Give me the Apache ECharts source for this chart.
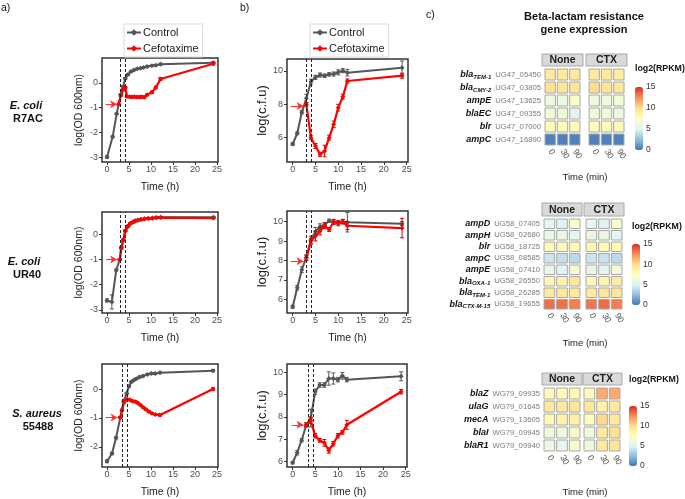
<!DOCTYPE html>
<html><head><meta charset="utf-8">
<script src="https://cdn.jsdelivr.net/npm/echarts@6/dist/echarts.min.js"></script>
<style>html,body{margin:0;padding:0;background:#fff}#c{width:685px;height:499px}</style>
</head><body><div id="c"></div><script>
// ---------------- DATA ----------------
const TIME_TICKS = [0, 5, 10, 15, 20, 25];
const OD_TICKS = [-3, -2, -1, 0];
const CFU_TICKS_TOP = [6, 8, 10];
const CFU_TICKS = [6, 7, 8, 9, 10];
const SERIES_NAMES = ['Control', 'Cefotaxime'];

// E. coli R7AC, OD
const R7AC_OD_ctrl_t = [0, 1.28, 2.19, 3.1, 3.63, 4.15, 4.76, 5.44, 6.12, 6.87, 7.63, 8.3, 9.14, 10.2, 11.1, 12.16, 24.17];
const R7AC_OD_ctrl_v = [-3.0, -2.18, -1.25, -0.5, -0.16, 0.18, 0.34, 0.46, 0.52, 0.57, 0.6, 0.63, 0.67, 0.7, 0.72, 0.76, 0.82];
const R7AC_OD_ctrl_e = [0.05, 0.04, 0.03, 0.04, 0.05, 0.04, 0.04, 0.03, 0.03, 0.03, 0.03, 0.03, 0.03, 0.03, 0.03, 0.04, 0.04];
const R7AC_OD_ctx_t = [2.64, 3.17, 3.63, 4.15, 4.53, 5.14, 5.66, 6.19, 6.8, 7.4, 7.93, 8.46, 9.14, 10.2, 11.1, 12.16, 24.17];
const R7AC_OD_ctx_v = [-0.86, -0.48, -0.27, -0.18, -0.55, -0.56, -0.57, -0.56, -0.57, -0.57, -0.56, -0.58, -0.48, -0.38, -0.18, 0.16, 0.78];
const R7AC_OD_ctx_e = [0.04, 0.05, 0.05, 0.04, 0.04, 0.04, 0.04, 0.04, 0.04, 0.04, 0.04, 0.04, 0.04, 0.05, 0.05, 0.06, 0.05];
// E. coli R7AC, cfu
const R7AC_CFU_ctrl_t = [0, 1, 2, 3, 4, 5, 6, 7, 8, 9, 10, 11, 12, 24];
const R7AC_CFU_ctrl_v = [5.62, 6.26, 7.52, 8.36, 9.36, 9.62, 9.76, 9.72, 9.8, 9.82, 9.92, 10.02, 9.9, 10.2];
const R7AC_CFU_ctrl_e = [0.08, 0.08, 0.1, 0.25, 0.15, 0.12, 0.12, 0.1, 0.1, 0.12, 0.15, 0.12, 0.2, 0.4];
const R7AC_CFU_ctx_t = [3, 4, 5, 6, 7, 8, 9, 10, 11, 12, 24];
const R7AC_CFU_ctx_v = [8.0, 6.0, 5.5, 5.0, 5.2, 6.0, 6.8, 7.8, 8.46, 9.4, 9.72];
const R7AC_CFU_ctx_e = [0.1, 0.12, 0.15, 0.12, 0.35, 0.15, 0.2, 0.2, 0.15, 0.12, 0.15];
// E. coli UR40, OD
const UR40_OD_ctrl_t = [0, 1.1, 2.1, 2.9, 3.25, 3.7, 4.15, 4.8, 5.3, 5.9, 6.4, 7, 7.7, 8.5, 9.4, 10.3, 11.2, 12.2, 24.2];
const UR40_OD_ctrl_v = [-2.62, -2.68, -1.42, -1.0, -0.53, -0.22, 0.14, 0.33, 0.43, 0.48, 0.53, 0.56, 0.59, 0.61, 0.63, 0.64, 0.66, 0.67, 0.67];
const UR40_OD_ctrl_e = [0.06, 0.28, 0.04, 0.03, 0.04, 0.04, 0.03, 0.03, 0.03, 0.03, 0.03, 0.03, 0.03, 0.03, 0.03, 0.03, 0.03, 0.03, 0.03];
const UR40_OD_ctx_t = [2.9, 3.25, 3.7, 4.15, 4.8, 5.3, 5.9, 6.4, 7, 7.7, 8.5, 9.4, 10.3, 11.2, 12.2, 24.2];
const UR40_OD_ctx_v = [-1.0, -0.55, -0.24, 0.13, 0.32, 0.42, 0.47, 0.52, 0.55, 0.58, 0.6, 0.62, 0.63, 0.65, 0.66, 0.64];
const UR40_OD_ctx_e = [0.03, 0.04, 0.04, 0.03, 0.03, 0.03, 0.03, 0.03, 0.03, 0.03, 0.03, 0.03, 0.03, 0.03, 0.03, 0.03];
// E. coli UR40, cfu
const UR40_CFU_ctrl_t = [0, 1, 2, 3, 4, 5, 6, 7, 8, 9, 10, 11, 12, 24];
const UR40_CFU_ctrl_v = [5.62, 6.6, 7.53, 8.17, 9.06, 9.5, 9.74, 9.83, 10.05, 9.97, 9.97, 10.0, 9.97, 9.9];
const UR40_CFU_ctrl_e = [0.08, 0.12, 0.15, 0.15, 0.2, 0.2, 0.15, 0.12, 0.08, 0.12, 0.1, 0.1, 0.5, 0.1];
const UR40_CFU_ctx_t = [3, 4, 5, 6, 7, 8, 9, 10, 11, 12, 24];
const UR40_CFU_ctx_v = [8.13, 9.0, 9.26, 9.52, 9.79, 9.6, 10.0, 9.91, 10.0, 9.79, 9.67];
const UR40_CFU_ctx_e = [0.12, 0.15, 0.25, 0.2, 0.15, 0.1, 0.12, 0.12, 0.12, 0.2, 0.5];
// S. aureus 55488, OD
const SA_OD_ctrl_t = [0, 1.14, 2.05, 3.03, 3.79, 4.47, 5.0, 5.53, 6.06, 6.67, 7.42, 8.18, 9.17, 10.08, 10.98, 12.05, 24.1];
const SA_OD_ctrl_v = [-2.5, -2.23, -1.69, -0.98, -0.42, -0.15, 0.1, 0.25, 0.31, 0.36, 0.42, 0.45, 0.51, 0.54, 0.54, 0.57, 0.64];
const SA_OD_ctrl_e = [0.05, 0.04, 0.04, 0.03, 0.04, 0.04, 0.03, 0.03, 0.03, 0.03, 0.03, 0.03, 0.03, 0.03, 0.03, 0.03, 0.04];
const SA_OD_ctx_t = [3.03, 3.4, 3.9, 4.6, 5.3, 5.9, 6.5, 7.0, 7.6, 8.2, 8.8, 9.5, 10.2, 11.0, 12.05, 24.1];
const SA_OD_ctx_v = [-0.98, -0.73, -0.45, -0.35, -0.38, -0.42, -0.44, -0.48, -0.55, -0.63, -0.7, -0.78, -0.84, -0.88, -0.9, 0.0];
const SA_OD_ctx_e = [0.03, 0.04, 0.04, 0.03, 0.03, 0.03, 0.03, 0.03, 0.03, 0.03, 0.03, 0.03, 0.03, 0.03, 0.04, 0.05];
// S. aureus 55488, cfu
const SA_CFU_ctrl_t = [0, 1, 2, 3, 4, 5, 6, 7, 8, 9, 10, 11, 12, 24];
const SA_CFU_ctrl_v = [5.95, 6.4, 6.96, 7.64, 7.95, 9.13, 9.43, 9.43, 9.72, 9.72, 9.67, 9.84, 9.67, 9.82];
const SA_CFU_ctrl_e = [0.05, 0.1, 0.08, 0.1, 0.4, 0.12, 0.1, 0.1, 0.3, 0.25, 0.1, 0.15, 0.1, 0.2];
const SA_CFU_ctx_t = [3, 4, 5, 6, 7, 8, 9, 10, 11, 12, 24];
const SA_CFU_ctx_v = [7.65, 7.85, 7.16, 6.95, 6.84, 6.5, 6.8, 7.16, 7.31, 7.65, 9.13];
const SA_CFU_ctx_e = [0.08, 0.15, 0.1, 0.08, 0.15, 0.12, 0.1, 0.1, 0.08, 0.2, 0.1];

// antibiotic addition windows (dashed lines) and arrow (y, x-from, x-to)
const R7AC_OD_dash = [3.0, 4.2], R7AC_CFU_dash = [3, 4];
const UR40_OD_dash = [3.0, 4.15], UR40_CFU_dash = [3, 4];
const SA_OD_dash = [3.5, 4.6], SA_CFU_dash = [3.5, 4.6];
const R7AC_OD_arrow = [-0.86, -0.3, 2.3], R7AC_CFU_arrow = [7.9, -0.4, 2.4];
const UR40_OD_arrow = [-1.0, -0.2, 2.3], UR40_CFU_arrow = [7.97, -0.4, 2.4];
const SA_OD_arrow = [-0.98, -0.3, 2.4], SA_CFU_arrow = [7.65, -0.2, 2.4];

// heatmaps
const TIME_MIN = ['0', '30', '90'];
const CB_TICKS = [0, 5, 10, 15];
const H1_genes = ['bla_TEM-1', 'bla_CMY-2', 'ampE', 'blaEC', 'blr', 'ampC'];
const H1_loci = ['UG47_05450', 'UG47_03805', 'UG47_13625', 'UG47_09355', 'UG47_07000', 'UG47_16890'];
const H1_none = [[9.2, 9.2, 9.2], [9.8, 9.5, 9.4], [6.2, 6.2, 7.2], [6.5, 6.4, 5.4], [7.8, 7.8, 7.9], [0.4, 0.4, 0.4]];
const H1_ctx = [[9.2, 9.2, 9.0], [10.1, 9.7, 9.4], [6.1, 6.2, 6.7], [6.4, 6.3, 6.0], [7.8, 7.8, 7.9], [0.4, 0.4, 0.4]];
const H2_genes = ['ampD', 'ampH', 'blr', 'ampC', 'ampE', 'bla_OXA-1', 'bla_TEM-1', 'bla_CTX-M-15'];
const H2_loci = ['UG58_07405', 'UG58_02680', 'UG58_18725', 'UG58_08585', 'UG58_07410', 'UG58_26550', 'UG58_26285', 'UG58_19655'];
const H2_none = [[5.6, 5.0, 7.0], [5.8, 5.9, 5.6], [8.0, 8.0, 8.0], [4.3, 4.0, 3.8], [5.8, 5.2, 6.6], [8.2, 8.6, 9.4], [9.2, 9.3, 9.3], [13.3, 13.3, 12.9]];
const H2_ctx = [[5.6, 5.1, 7.0], [5.9, 5.9, 5.2], [8.3, 8.0, 8.0], [4.3, 4.2, 3.8], [5.8, 5.5, 6.5], [8.0, 8.4, 9.0], [9.1, 9.4, 9.4], [13.1, 13.4, 12.9]];
const H3_genes = ['blaZ', 'ulaG', 'mecA', 'blaI', 'blaR1'];
const H3_loci = ['WG79_09935', 'WG79_01645', 'WG79_13605', 'WG79_09945', 'WG79_09940'];
const H3_none = [[8.0, 8.0, 8.1], [9.3, 9.3, 9.5], [8.1, 8.6, 8.6], [6.2, 6.2, 6.9], [6.0, 5.5, 6.7]];
const H3_ctx = [[7.9, 11.6, 11.6], [9.4, 8.6, 9.2], [7.6, 10.2, 9.3], [6.2, 9.3, 9.8], [6.1, 9.3, 9.5]];
const PALETTE = ['#4575b4', '#91bfdb', '#e0f3f8', '#ffffbf', '#fee090', '#fc8d59', '#d73027'];

// ---------------- BUILD ----------------
const FONT = "'Liberation Sans', Arial, sans-serif";
const CTRL_COL = '#555555', CTX_COL = '#ff0000';
const grids = [], xAxes = [], yAxes = [], series = [], visualMaps = [], graphics = [];
const zip = (t, v, e) => t.map((x, i) => e ? [x, v[i], e[i]] : [x, v[i]]);

function errSeries(gi, data, color) {
  return {
    type: 'custom', xAxisIndex: gi, yAxisIndex: gi, data: data, z: 3, silent: true,
    renderItem: function (params, api) {
      const x = api.value(0), y = api.value(1), e = api.value(2);
      const a = api.coord([x, y + e]), b = api.coord([x, y - e]);
      const c = 2, st = { stroke: color, lineWidth: 1 };
      return { type: 'group', children: [
        { type: 'line', shape: { x1: a[0], y1: a[1], x2: b[0], y2: b[1] }, style: st },
        { type: 'line', shape: { x1: a[0] - c, y1: a[1], x2: a[0] + c, y2: a[1] }, style: st },
        { type: 'line', shape: { x1: b[0] - c, y1: b[1], x2: b[0] + c, y2: b[1] }, style: st }
      ] };
    }
  };
}

function addLinePanel(p) {
  const gi = grids.length;
  grids.push({ left: p.box[0], top: p.box[1], width: p.box[2], height: p.box[3], show: true,
    borderColor: '#333', borderWidth: 1.5, backgroundColor: 'transparent' });
  xAxes.push({ gridIndex: gi, type: 'value', min: p.xr[0], max: p.xr[1],
    axisLine: { show: false, onZero: false }, splitLine: { show: false },
    axisTick: { show: true, length: 3, customValues: TIME_TICKS, lineStyle: { color: '#333' } },
    axisLabel: { customValues: TIME_TICKS, fontSize: 9, color: '#4d4d4d', margin: 3, fontFamily: FONT },
    name: 'Time (h)', nameLocation: 'middle', nameGap: 20,
    nameTextStyle: { fontSize: 10.5, color: '#222', fontFamily: FONT } });
  yAxes.push({ gridIndex: gi, type: 'value', min: p.yr[0], max: p.yr[1],
    axisLine: { show: false, onZero: false }, splitLine: { show: false },
    axisTick: { show: true, length: 3, customValues: p.yt, lineStyle: { color: '#333' } },
    axisLabel: { customValues: p.yt, fontSize: 9, color: '#4d4d4d', margin: 4, fontFamily: FONT },
    name: p.yname, nameLocation: 'middle', nameGap: p.ygap,
    nameTextStyle: { fontSize: p.yfs, color: '#222', fontFamily: FONT } });
  series.push({ type: 'line', name: 'Control', xAxisIndex: gi, yAxisIndex: gi, data: zip(p.ct, p.cv),
    symbol: 'diamond', symbolSize: 5, lineStyle: { color: CTRL_COL, width: 2 }, itemStyle: { color: CTRL_COL }, z: 2,
    markLine: { silent: true, symbol: 'none', label: { show: false },
      lineStyle: { type: [3, 2], color: '#222', width: 1 }, data: p.dash.map(d => ({ xAxis: d })) } });
  series.push(errSeries(gi, zip(p.ct, p.cv, p.ce), CTRL_COL));
  series.push({ type: 'line', name: 'Cefotaxime', xAxisIndex: gi, yAxisIndex: gi, data: zip(p.rt, p.rv),
    symbol: 'diamond', symbolSize: 5, lineStyle: { color: CTX_COL, width: 2.2 }, itemStyle: { color: CTX_COL }, z: 4,
    markLine: { silent: true, symbol: ['none', 'arrow'], symbolSize: [6, 7], label: { show: false },
      lineStyle: { type: 'solid', color: '#ff3030', width: 1 },
      data: [[{ coord: [p.arrow[1], p.arrow[0]] }, { coord: [p.arrow[2], p.arrow[0]] }]] } });
  series.push(errSeries(gi, zip(p.rt, p.rv, p.re), '#cc0000'));
}

const AX = [-1.14, 25.23], BX = [-1.25, 25.3];
addLinePanel({ box: [102, 58, 116, 104], xr: AX, yr: [-3.2, 1.01], yt: OD_TICKS, yname: 'log(OD 600nm)', ygap: 17, yfs: 10.5,
  ct: R7AC_OD_ctrl_t, cv: R7AC_OD_ctrl_v, ce: R7AC_OD_ctrl_e, rt: R7AC_OD_ctx_t, rv: R7AC_OD_ctx_v, re: R7AC_OD_ctx_e, dash: R7AC_OD_dash, arrow: R7AC_OD_arrow });
addLinePanel({ box: [287, 59, 121, 103], xr: BX, yr: [4.54, 10.72], yt: CFU_TICKS_TOP, yname: 'log(c.f.u)', ygap: 16, yfs: 13,
  ct: R7AC_CFU_ctrl_t, cv: R7AC_CFU_ctrl_v, ce: R7AC_CFU_ctrl_e, rt: R7AC_CFU_ctx_t, rv: R7AC_CFU_ctx_v, re: R7AC_CFU_ctx_e, dash: R7AC_CFU_dash, arrow: R7AC_CFU_arrow });
addLinePanel({ box: [102, 212, 116, 101], xr: AX, yr: [-3.12, 0.88], yt: OD_TICKS, yname: 'log(OD 600nm)', ygap: 17, yfs: 10.5,
  ct: UR40_OD_ctrl_t, cv: UR40_OD_ctrl_v, ce: UR40_OD_ctrl_e, rt: UR40_OD_ctx_t, rv: UR40_OD_ctx_v, re: UR40_OD_ctx_e, dash: UR40_OD_dash, arrow: UR40_OD_arrow });
addLinePanel({ box: [287, 211, 121, 102], xr: BX, yr: [5.3, 10.55], yt: CFU_TICKS, yname: 'log(c.f.u)', ygap: 16, yfs: 13,
  ct: UR40_CFU_ctrl_t, cv: UR40_CFU_ctrl_v, ce: UR40_CFU_ctrl_e, rt: UR40_CFU_ctx_t, rv: UR40_CFU_ctx_v, re: UR40_CFU_ctx_e, dash: UR40_CFU_dash, arrow: UR40_CFU_arrow });
addLinePanel({ box: [102, 364, 116, 103], xr: AX, yr: [-2.7, 0.87], yt: [-2, -1, 0], yname: 'log(OD 600nm)', ygap: 17, yfs: 10.5,
  ct: SA_OD_ctrl_t, cv: SA_OD_ctrl_v, ce: SA_OD_ctrl_e, rt: SA_OD_ctx_t, rv: SA_OD_ctx_v, re: SA_OD_ctx_e, dash: SA_OD_dash, arrow: SA_OD_arrow });
addLinePanel({ box: [287, 364, 120, 103], xr: BX, yr: [5.76, 10.37], yt: CFU_TICKS, yname: 'log(c.f.u)', ygap: 16, yfs: 13,
  ct: SA_CFU_ctrl_t, cv: SA_CFU_ctrl_v, ce: SA_CFU_ctrl_e, rt: SA_CFU_ctx_t, rv: SA_CFU_ctx_v, re: SA_CFU_ctx_e, dash: SA_CFU_dash, arrow: SA_CFU_arrow });

function geneLabel(genes) {
  return function (val, idx) {
    const parts = genes[idx].split('_');
    return parts[1] ? '{g|' + parts[0] + '}{s|' + parts[1] + '}{l|' + val + '}' : '{g|' + parts[0] + '}{l|' + val + '}';
  };
}
const RICH = {
  g: { fontSize: 9, fontWeight: 'bold', fontStyle: 'italic', color: '#111', fontFamily: FONT, lineHeight: 11, verticalAlign: 'middle' },
  s: { fontSize: 6, fontWeight: 'bold', fontStyle: 'italic', color: '#111', fontFamily: FONT, lineHeight: 11, verticalAlign: 'bottom' },
  l: { fontSize: 7.7, color: '#7a7a7a', fontFamily: FONT, lineHeight: 11, padding: [0, 0, 0, 4] }
};

function cellRender(params, api) {
  const p = api.coord([api.value(0), api.value(1)]);
  const s = api.size([1, 1]);
  return { type: 'rect', shape: { x: p[0] - s[0] / 2 + 1, y: p[1] - s[1] / 2 + 1, width: s[0] - 2, height: s[1] - 2 },
    style: { fill: api.visual('color'), stroke: '#a8a8a8', lineWidth: 1 } };
}

function addHeat(h) {
  const sIdx = [];
  [[h.none, 'None'], [h.ctx, 'CTX']].forEach(([vals, lab], k) => {
    const gi = grids.length;
    grids.push({ left: h.gx[k], top: h.gy, width: h.gw, height: h.gh });
    xAxes.push({ gridIndex: gi, type: 'category', data: TIME_MIN, axisLine: { show: false }, axisTick: { show: false },
      splitLine: { show: false },
      axisLabel: { interval: 0, rotate: -60, fontSize: 8.5, color: '#4d4d4d', margin: 4, fontFamily: FONT } });
    yAxes.push({ gridIndex: gi, type: 'category', data: h.loci, inverse: true, axisLine: { show: false }, axisTick: { show: false },
      splitLine: { show: false },
      axisLabel: k === 0 ? { interval: 0, formatter: geneLabel(h.genes), rich: RICH, margin: 3 } : { show: false } });
    const data = [];
    vals.forEach((row, r) => row.forEach((v, c) => data.push([c, r, v])));
    sIdx.push(series.length);
    series.push({ type: 'custom', xAxisIndex: gi, yAxisIndex: gi, data: data, silent: true,
      encode: { x: 0, y: 1 }, renderItem: cellRender });
    graphics.push({ type: 'rect', shape: { x: h.strip[k][0], y: h.strip[k][1], width: h.strip[k][2], height: h.strip[k][3] },
      style: { fill: '#d9d9d9', stroke: '#a8a8a8', lineWidth: 1 } });
    graphics.push({ type: 'text', x: h.strip[k][0] + h.strip[k][2] / 2, y: h.strip[k][1] + h.strip[k][3] / 2 + 0.5,
      style: { text: lab, font: 'bold 10.5px ' + FONT, fill: '#222', textAlign: 'center', textVerticalAlign: 'middle' } });
  });
  // colour bar
  visualMaps.push({ type: 'continuous', min: 0, max: 15, dimension: 2, seriesIndex: sIdx, left: h.cb[0], top: h.cb[1],
    itemWidth: h.cb[2], itemHeight: h.cb[3], padding: 0, calculable: false, hoverLink: false, text: null, showLabel: false,
    inRange: { color: PALETTE } });
  const gi = grids.length;
  grids.push({ left: h.cb[0], top: h.cb[1], width: h.cb[2], height: h.cb[3] });
  xAxes.push({ gridIndex: gi, type: 'value', show: false });
  yAxes.push({ gridIndex: gi, type: 'value', min: 0, max: 15, position: 'right', axisLine: { show: false },
    axisTick: { show: false }, splitLine: { show: false }, axisLabel: { customValues: CB_TICKS, fontSize: 8.5, color: '#333', margin: 3, fontFamily: FONT } });
  graphics.push({ type: 'text', x: h.cb[0], y: h.cbTitleY, style: { text: 'log2(RPKM)', font: 'bold 8.8px ' + FONT, fill: '#111', textAlign: 'left', textVerticalAlign: 'middle' } });
  graphics.push({ type: 'text', x: 585, y: h.timeY, style: { text: 'Time (min)', font: '9.5px ' + FONT, fill: '#222', textAlign: 'center', textVerticalAlign: 'middle' } });
}

addHeat({ genes: H1_genes, loci: H1_loci, none: H1_none, ctx: H1_ctx, gx: [544, 588], gw: 37, gy: 68, gh: 78,
  strip: [[542, 54, 41, 12], [586, 54, 41, 12]], cb: [635, 87, 8, 63], cbTitleY: 69, timeY: 177 });
addHeat({ genes: H2_genes, loci: H2_loci, none: H2_none, ctx: H2_ctx, gx: [543, 585], gw: 38, gy: 218, gh: 92,
  strip: [[542, 203, 40, 13], [584, 203, 40, 13]], cb: [632, 244, 8, 61], cbTitleY: 227, timeY: 343 });
addHeat({ genes: H3_genes, loci: H3_loci, none: H3_none, ctx: H3_ctx, gx: [543, 583], gw: 38, gy: 387, gh: 65,
  strip: [[542, 373, 40, 12], [583, 373, 39, 12]], cb: [629, 406, 8, 60], cbTitleY: 380, timeY: 492 });

// static texts
function txt(x, y, s, font, align) {
  graphics.push({ type: 'text', x: x, y: y, style: { text: s, font: font + ' ' + FONT, fill: '#111', textAlign: align || 'left', textVerticalAlign: 'middle' } });
}
txt(1, 8, 'a)', '10.5px'); txt(240, 8, 'b)', '10.5px'); txt(426, 15, 'c)', '10.5px');
txt(26, 106, 'E. coli', 'italic bold 11px', 'center'); txt(28, 119, 'R7AC', 'bold 11px', 'center');
txt(24, 262, 'E. coli', 'italic bold 11px', 'center'); txt(27, 275, 'UR40', 'bold 11px', 'center');
txt(37, 414, 'S. aureus', 'italic bold 11px', 'center'); txt(38, 427, '55488', 'bold 11px', 'center');
txt(584, 17, 'Beta-lactam resistance', 'bold 11px', 'center'); txt(584, 30, 'gene expression', 'bold 11px', 'center');

const legendBase = { orient: 'vertical', data: SERIES_NAMES, borderColor: '#d9d9d9', borderWidth: 1,
  padding: [3, 4, 3, 2], itemGap: 5, itemWidth: 14, itemHeight: 8, selectedMode: false,
  textStyle: { fontSize: 11, color: '#222', fontFamily: FONT, padding: [0, 0, 0, -3] } };

const chart = echarts.init(document.getElementById('c'), null, { renderer: 'canvas' });
chart.setOption({
  animation: false, backgroundColor: '#fff',
  textStyle: { fontFamily: FONT },
  grid: grids, xAxis: xAxes, yAxis: yAxes, series: series, visualMap: visualMaps,
  legend: [Object.assign({ left: 124, top: 24 }, legendBase), Object.assign({ left: 310, top: 24 }, legendBase)],
  graphic: graphics
});
</script></body></html>
